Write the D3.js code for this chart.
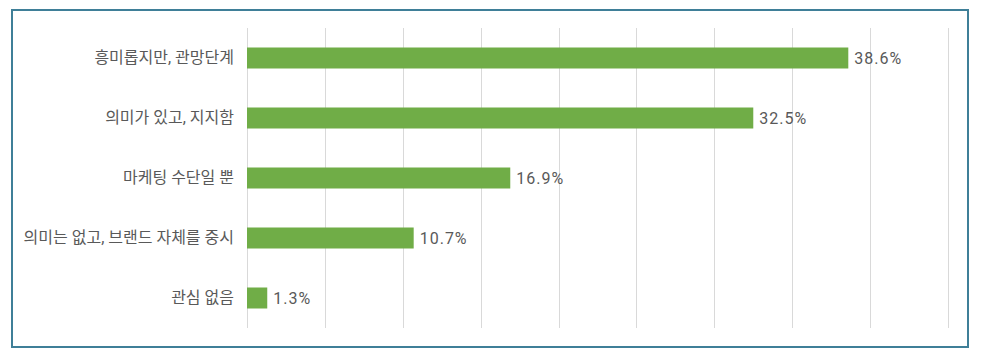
<!DOCTYPE html>
<html>
<head>
<meta charset="utf-8">
<script src="https://cdn.jsdelivr.net/npm/d3@7"></script>
<style>
  body { margin: 0; background: #fff; }
  text { font-family: Roboto, 'Noto Sans CJK KR', sans-serif; }
</style>
</head>
<body>
<div id="chart"></div>
<script>
// Data
const categories = ['흥미롭지만, 관망단계', '의미가 있고, 지지함', '마케팅 수단일 뿐', '의미는 없고, 브랜드 자체를 중시', '관심 없음'];
const values = [38.6, 32.5, 16.9, 10.7, 1.3];
const xTicks = [0, 5, 10, 15, 20, 25, 30, 35, 40, 45];

const W = 1002;
const H = 354;
const margin = { l: 247, r: 54, t: 28, b: 26 };
const width = 948 - margin.l;
const height = 328 - margin.t;

const svg = d3
  .select('#chart')
  .append('svg')
  .attr('width', W)
  .attr('height', H);

// frame
svg
  .append('rect')
  .attr('x', 12)
  .attr('y', 10)
  .attr('width', 956)
  .attr('height', 337)
  .attr('fill', 'none')
  .attr('stroke', '#3f7f98')
  .attr('stroke-width', 2);

const g = svg.append('g').attr('transform', `translate(${margin.l}, ${margin.t})`);

const xScale = d3.scaleLinear([0, 45], [0, width]);
const yScale = d3.scaleBand(categories, [0, height]).paddingInner(0.65).paddingOuter(0.325);

// gridlines
g.selectAll('.grid')
  .data(xTicks)
  .join('line')
  .attr('class', 'grid')
  .attr('x1', (d) => Math.round(xScale(d)) + 0.5)
  .attr('x2', (d) => Math.round(xScale(d)) + 0.5)
  .attr('y1', 0)
  .attr('y2', height)
  .attr('stroke', '#d9d9d9')
  .attr('stroke-width', 1);

// category labels
const yAxis = d3.axisLeft(yScale).tickSize(0).tickPadding(13);
g.append('g')
  .call(yAxis)
  .call((a) => a.select('.domain').remove())
  .selectAll('text')
  .attr('font-size', 16)
  .attr('fill', '#595959')
  .style('font-family', "Roboto, 'Noto Sans CJK KR', sans-serif");

// bars
g.selectAll('.bar')
  .data(values)
  .join('rect')
  .attr('class', 'bar')
  .attr('x', xScale(0))
  .attr('y', (d, i) => yScale(categories[i]))
  .attr('width', (d) => xScale(d) - xScale(0))
  .attr('height', yScale.bandwidth())
  .attr('fill', '#70ad47');

// value labels
g.selectAll('.val')
  .data(values)
  .join('text')
  .attr('class', 'val')
  .attr('x', (d) => xScale(d) + 6)
  .attr('y', (d, i) => yScale(categories[i]) + yScale.bandwidth() / 2)
  .attr('dy', '0.35em')
  .attr('font-size', 16)
  .attr('letter-spacing', 1)
  .attr('fill', '#595959')
  .text((d) => `${d.toFixed(1)}%`);
</script>
</body>
</html>
